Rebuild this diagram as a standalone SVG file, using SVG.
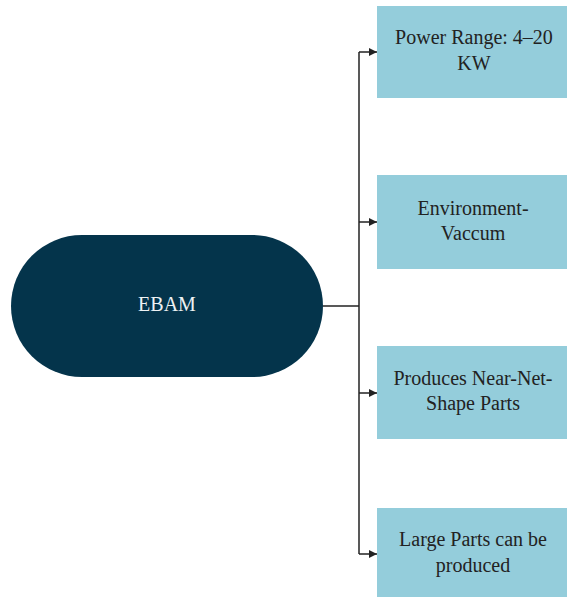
<svg xmlns="http://www.w3.org/2000/svg" width="567" height="597" viewBox="0 0 567 597">
  <style>
    .box { fill: #94cddb; }
    .lbl { font-family: 'Liberation Serif', 'Times New Roman', Times, 'DejaVu Serif', serif; font-size: 20px; fill: #222222; text-anchor: middle; }
    .root { font-family: 'Liberation Serif', 'Times New Roman', Times, 'DejaVu Serif', serif; font-size: 20px; fill: #eef2f4; text-anchor: middle; }
    .wire { fill: none; stroke: #222222; stroke-width: 1.5; }
  </style>
  <defs>
    <marker id="arrow" viewBox="0 0 10 10" refX="10" refY="5" markerWidth="8" markerHeight="8" markerUnits="userSpaceOnUse" orient="auto">
      <path d="M0,0 L10,5 L0,10 z" fill="#222222"/>
    </marker>
  </defs>
  <rect width="567" height="597" fill="#ffffff"/>

  <g id="connectors">
    <path class="wire" d="M323,306 H359"/>
    <path class="wire" d="M359,52 V554"/>
    <path class="wire" d="M359,52 H377" marker-end="url(#arrow)"/>
    <path class="wire" d="M359,222 H377" marker-end="url(#arrow)"/>
    <path class="wire" d="M359,393 H377" marker-end="url(#arrow)"/>
    <path class="wire" d="M359,554 H377" marker-end="url(#arrow)"/>
  </g>

  <g id="ebam">
    <rect x="11" y="235" width="312" height="142" rx="71" ry="71" fill="#04344b"/>
    <text class="root" x="167" y="311">EBAM</text>
  </g>

  <g id="power-range">
    <rect class="box" x="377" y="6" width="190" height="92"/>
    <text class="lbl" x="474" y="44">Power Range: 4–20</text>
    <text class="lbl" x="474" y="70">KW</text>
  </g>

  <g id="environment">
    <rect class="box" x="377" y="175" width="190" height="94"/>
    <text class="lbl" x="473" y="215">Environment-</text>
    <text class="lbl" x="473" y="240">Vaccum</text>
  </g>

  <g id="near-net-shape">
    <rect class="box" x="377" y="346" width="190" height="93"/>
    <text class="lbl" x="473" y="385">Produces Near-Net-</text>
    <text class="lbl" x="473" y="410">Shape Parts</text>
  </g>

  <g id="large-parts">
    <rect class="box" x="377" y="508" width="190" height="89"/>
    <text class="lbl" x="473" y="546">Large Parts can be</text>
    <text class="lbl" x="473" y="572">produced</text>
  </g>
</svg>
